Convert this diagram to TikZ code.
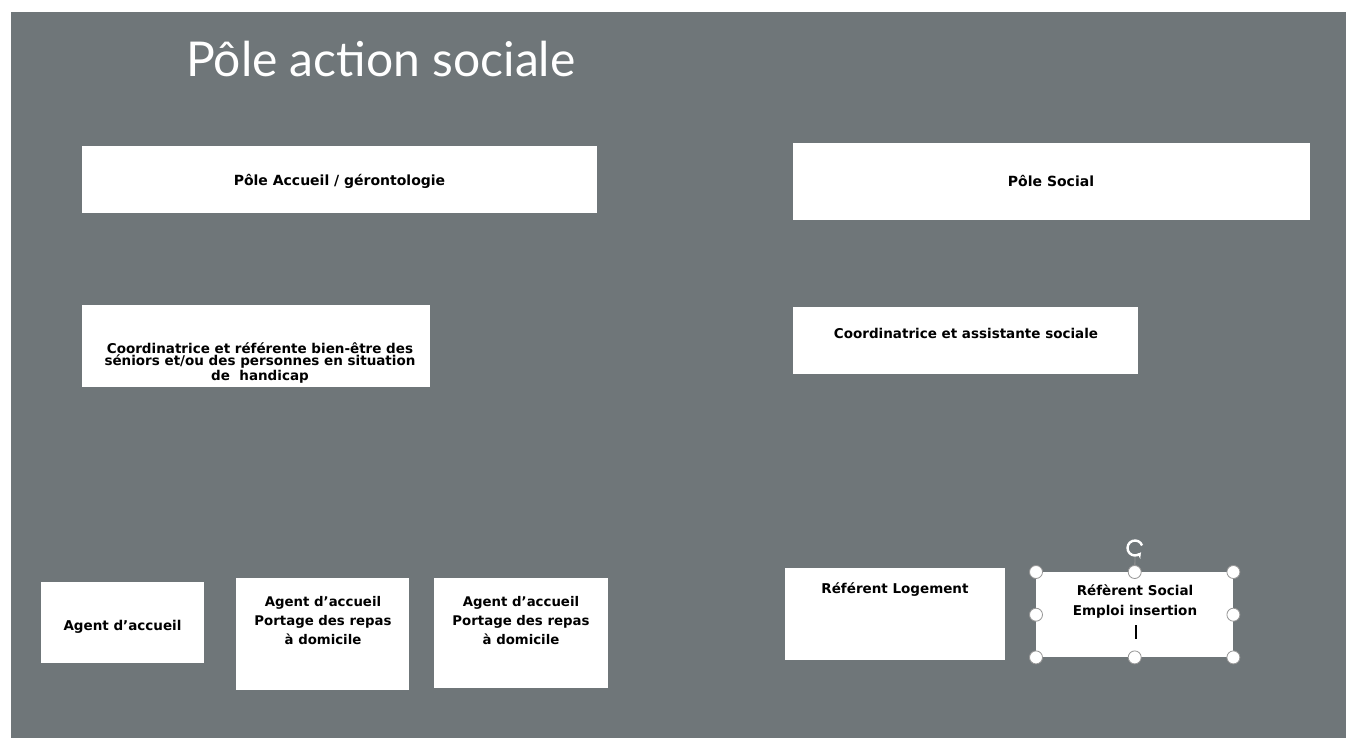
\documentclass[tikz,border=0pt]{standalone}
\usepackage{fontspec}
\setmainfont{DejaVu Sans}
\newfontfamily\titlefont{Lato}
\usetikzlibrary{arrows.meta}
\definecolor{slate}{RGB}{111,118,121}
\definecolor{handlegray}{RGB}{150,150,150}
\tikzset{
  card/.style={fill=white, draw=none, inner sep=0pt, anchor=north west, align=center, text=black},
  lbl/.style={font=\bfseries\fontsize{13.5}{15}\selectfont, align=center, text=black, inner sep=0pt},
  toplbl/.style={font=\bfseries\fontsize{14}{16}\selectfont, align=center, text=black, inner sep=0pt},
  handle/.style={circle, fill=white, draw=handlegray, line width=0.8pt, minimum size=13pt, inner sep=0pt},
}
\begin{document}
\begin{tikzpicture}[x=1pt,y=-1pt]
\useasboundingbox (0,0) rectangle (1352,738);
\fill[white] (0,0) rectangle (1352,738);
\fill[slate] (11,12) rectangle (1346,738);
% title
\node[anchor=base west, text=white, font=\titlefont\fontsize{48}{54}\selectfont, inner sep=0pt] (title) at (186,77) {Pôle action sociale};
% top boxes
\node[card, minimum width=515pt, minimum height=67pt] (accueil) at (82,146) {};
\node[toplbl, anchor=base] (accueilT) at (339.5,186) {Pôle Accueil / gérontologie};
\node[card, minimum width=517pt, minimum height=77pt] (social) at (793,143) {};
\node[toplbl, anchor=base] (socialT) at (1051,187) {Pôle Social};
% middle boxes
\node[card, minimum width=348pt, minimum height=82pt] (coordA) at (82,305) {};
\node[lbl, anchor=base, font=\bfseries\fontsize{13.5}{12.5}\selectfont] (coordAT) at (260,380) {Coordinatrice et référente bien-être des\\séniors et/ou des personnes en situation\\de\ \ handicap};
\node[card, minimum width=345pt, minimum height=67pt] (coordS) at (793,307) {};
\node[toplbl, anchor=base, font=\bfseries\fontsize{13.5}{15}\selectfont] (coordST) at (966,338) {Coordinatrice et assistante sociale};
% bottom boxes
\node[card, minimum width=163pt, minimum height=81pt] (agent1) at (41,582) {};
\node[lbl, anchor=base] (agent1T) at (122.5,630) {Agent d’accueil};
\node[card, minimum width=173pt, minimum height=112pt] (agent2) at (236,578) {};
\node[lbl, anchor=base, font=\bfseries\fontsize{13.3}{19}\selectfont] (agent2T) at (323,644) {Agent d’accueil\\Portage des repas\\à domicile};
\node[card, minimum width=174pt, minimum height=110pt] (agent3) at (434,578) {};
\node[lbl, anchor=base, font=\bfseries\fontsize{13.3}{19}\selectfont] (agent3T) at (521,644) {Agent d’accueil\\Portage des repas\\à domicile};
\node[card, minimum width=220pt, minimum height=92pt] (logement) at (785,568) {};
\node[lbl, anchor=base] (logementT) at (895,593) {Référent Logement};
\node[card, minimum width=197pt, minimum height=85pt] (emploi) at (1036,572) {};
\node[lbl, anchor=base, font=\bfseries\fontsize{13.5}{20}\selectfont] (emploiT) at (1135,615) {Réfèrent Social\\Emploi insertion};
\draw[black, line width=1.3pt] (1136,625) -- (1136,639);
% selection handles
\coordinate (rot) at (1135,548);
\draw[handlegray, line width=0.8pt] (emploi.north) -- (1135,557);
\foreach \p [count=\i] in {north west, north, north east, east, south east, south, south west, west}
  \node[handle] (h\i) at (emploi.\p) {};
\draw[white, line width=2.4pt, -{Stealth[length=5pt,width=7pt]}] ([shift={(20:7.5pt)}]rot) arc[start angle=20, end angle=320, radius=7.5pt];
\end{tikzpicture}
\end{document}
